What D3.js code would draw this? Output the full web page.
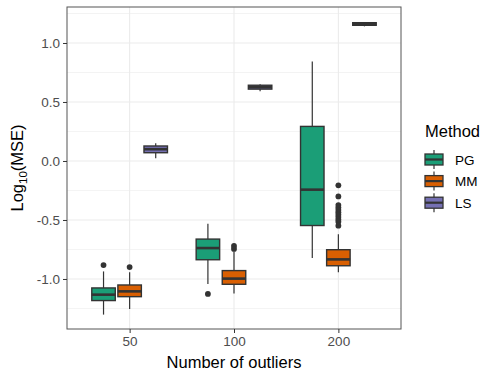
<!DOCTYPE html>
<html><head><meta charset="utf-8">
<script src="https://cdn.jsdelivr.net/npm/d3@7"></script>
<style>body{margin:0;background:#fff;}text{font-family:"Liberation Sans",Arial,sans-serif;}</style>
</head><body><svg id="c" width="500" height="380"></svg>
<script>
const categories = ["50", "100", "200"];
const methods = ["PG", "MM", "LS"];
const colors = ["#1B9E77", "#D95F02", "#7570B3"];
const yTicks = [-1.0, -0.5, 0.0, 0.5, 1.0];
const yMinor = [-1.25, -0.75, -0.25, 0.25, 0.75, 1.25];

// per method, per category: [lower whisker, q1, median, q3, upper whisker]
const statsPG = [[-1.302, -1.183, -1.133, -1.076, -0.936], [-1.042, -0.837, -0.738, -0.662, -0.533], [-0.822, -0.547, -0.243, 0.293, 0.843]];
const statsMM = [[-1.254, -1.150, -1.105, -1.051, -0.944], [-1.124, -1.045, -0.997, -0.929, -0.767], [-0.944, -0.888, -0.834, -0.752, -0.620]];
const statsLS = [[0.023, 0.070, 0.100, 0.127, 0.150], [0.592, 0.609, 0.625, 0.642, 0.651], [1.141, 1.150, 1.161, 1.172, 1.178]];
const outPG = [[-0.882], [-1.127], []];
const outMM = [[-0.899], [-0.720, -0.745], [-0.206, -0.300, -0.374, -0.395, -0.415, -0.435, -0.455, -0.475, -0.495, -0.515, -0.548]];
const outLS = [[], [], []];

const allStats = [statsPG, statsMM, statsLS];
const allOut = [outPG, outMM, outLS];

const svg = d3.select("#c");
const L = 67, R = 401, T = 7, B = 329;
const unit = (R - L) / 3.2;
const x = d3.scalePoint().domain(categories).range([L + 0.6 * unit, R - 0.6 * unit]);
const y = d3.scaleLinear().domain([-1.424, 1.305]).range([B, T]);
const slot = unit * 0.25, bw = slot * 0.9;
const dark = "#333333";

// gridlines
svg.append("g").selectAll("line").data(yMinor).join("line")
  .attr("x1", L).attr("x2", R).attr("y1", d => y(d)).attr("y2", d => y(d))
  .attr("stroke", "#EBEBEB").attr("stroke-width", 0.6);
svg.append("g").selectAll("line").data(yTicks).join("line")
  .attr("x1", L).attr("x2", R).attr("y1", d => y(d)).attr("y2", d => y(d))
  .attr("stroke", "#EBEBEB").attr("stroke-width", 1.1);
svg.append("g").selectAll("line").data(categories).join("line")
  .attr("y1", T).attr("y2", B).attr("x1", d => x(d)).attr("x2", d => x(d))
  .attr("stroke", "#EBEBEB").attr("stroke-width", 1.1);

// boxes
methods.forEach((m, mi) => {
  const g = svg.append("g");
  categories.forEach((c, ci) => {
    const s = allStats[mi][ci];
    const cx = x(c) + (mi - 1) * slot;
    g.append("line").attr("x1", cx).attr("x2", cx).attr("y1", y(s[0])).attr("y2", y(s[1]))
      .attr("stroke", dark).attr("stroke-width", 1.2);
    g.append("line").attr("x1", cx).attr("x2", cx).attr("y1", y(s[3])).attr("y2", y(s[4]))
      .attr("stroke", dark).attr("stroke-width", 1.2);
    g.append("rect").attr("x", cx - bw / 2).attr("width", bw)
      .attr("y", y(s[3])).attr("height", y(s[1]) - y(s[3]))
      .attr("fill", colors[mi]).attr("stroke", dark).attr("stroke-width", 1.4);
    g.append("line").attr("x1", cx - bw / 2).attr("x2", cx + bw / 2).attr("y1", y(s[2])).attr("y2", y(s[2]))
      .attr("stroke", dark).attr("stroke-width", 2.6);
    g.selectAll(null).data(allOut[mi][ci]).join("circle")
      .attr("cx", cx).attr("cy", d => y(d)).attr("r", 2.9).attr("fill", dark);
  });
});

// panel border
svg.append("rect").attr("x", L).attr("y", T).attr("width", R - L).attr("height", B - T)
  .attr("fill", "none").attr("stroke", "#555").attr("stroke-width", 1);

// axes
const yAxis = d3.axisLeft(y).tickValues(yTicks).tickFormat(d3.format(".1f")).tickSize(4).tickPadding(3);
const ya = svg.append("g").attr("transform", `translate(${L},0)`).call(yAxis);
const xAxis = d3.axisBottom(x).tickSize(4).tickPadding(3);
const xa = svg.append("g").attr("transform", `translate(0,${B})`).call(xAxis);
[ya, xa].forEach(a => {
  a.select(".domain").remove();
  a.selectAll(".tick line").attr("stroke", "#333").attr("stroke-width", 1);
  a.selectAll(".tick text").attr("fill", "#4D4D4D").attr("font-size", 13.5)
    .attr("font-family", "Liberation Sans, Arial, sans-serif");
});
ya.selectAll(".tick text").text(d => d.toFixed(1).replace("-", "-"));

// axis titles
svg.append("text").attr("x", (L + R) / 2).attr("y", 368).attr("text-anchor", "middle")
  .attr("font-size", 16.5).attr("fill", "#000").text("Number of outliers");
const yt = svg.append("text").attr("transform", `translate(23,${(T + B) / 2}) rotate(-90)`)
  .attr("text-anchor", "middle").attr("font-size", 16.5).attr("fill", "#000");
yt.append("tspan").text("Log");
yt.append("tspan").attr("font-size", 11.5).attr("dy", 4).text("10");
yt.append("tspan").attr("dy", -4).text("(MSE)");

// legend
svg.append("text").attr("x", 425).attr("y", 137).attr("font-size", 16.5).attr("fill", "#000").text("Method");
const lg = svg.append("g");
methods.forEach((m, i) => {
  const cy = 159.5 + i * 21.6, kx = 425, kw = 18, mid = kx + kw / 2;
  lg.append("line").attr("x1", mid).attr("x2", mid).attr("y1", cy - 9.5).attr("y2", cy + 9.5)
    .attr("stroke", dark).attr("stroke-width", 1.2);
  lg.append("rect").attr("x", kx).attr("y", cy - 5.5).attr("width", kw).attr("height", 11)
    .attr("fill", colors[i]).attr("stroke", dark).attr("stroke-width", 1.3);
  lg.append("line").attr("x1", kx).attr("x2", kx + kw).attr("y1", cy).attr("y2", cy)
    .attr("stroke", dark).attr("stroke-width", 2.2);
  lg.append("text").attr("x", 455).attr("y", cy + 5).attr("font-size", 13.5).attr("fill", "#000").text(m);
});
</script></body></html>
